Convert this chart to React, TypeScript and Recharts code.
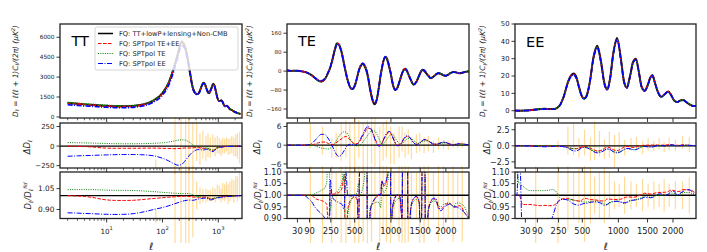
import React from 'react';
import { ComposedChart, Line, Scatter, ErrorBar, XAxis, YAxis } from 'recharts';

const FONT = "'DejaVu Sans', sans-serif";
const C_FID = '#000000';
const C_TEEE = '#ff0000';
const C_TE = '#008000';
const C_EE = '#0000ff';
const C_BAR = '#ffa500';

// ---------------- TT ----------------
const ttEll = [2, 3, 4, 6, 8, 10, 14, 20, 30, 40, 50, 70, 100, 130, 160, 190, 220, 250, 280, 310, 350, 400, 420, 460, 500, 540, 580, 620, 680, 740, 810, 860, 920, 980, 1040, 1100, 1150, 1200, 1260, 1320, 1420, 1500, 1600, 1750, 1900, 2100, 2300, 2500];
const ttFid = [1050, 990, 950, 900, 860, 840, 810, 800, 830, 900, 990, 1250, 1800, 2600, 3700, 4800, 5650, 5350, 4500, 3400, 2200, 1750, 1720, 1900, 2300, 2580, 2450, 2100, 1800, 2100, 2500, 2350, 1800, 1350, 1200, 1230, 1250, 1120, 900, 800, 850, 760, 600, 520, 420, 330, 270, 230];
const ttDeltaTEEE = [0, -3, -6, -14, -22, -26, -28, -28, -28, -27, -26, -26, -28, -30, -33, -32, -28, -25, -25, -25, -22, -20, -20, -22, -28, -30, -28, -25, -35, -48, -55, -45, -30, -18, -12, -10, -10, -9, -7, -6, -5, -4, -3, -2, -1, 0, 0, 0];
const ttDeltaTE = [45, 43, 41, 38, 35, 33, 31, 30, 30, 31, 32, 36, 42, 52, 65, 75, 80, 78, 65, 45, 15, -5, -10, -15, -20, -25, -25, -25, -35, -45, -50, -40, -25, -15, -12, -10, -10, -8, -5, -5, -5, -4, -3, -2, -1, 0, 0, 0];
const ttDeltaEE = [-130, -125, -122, -118, -115, -113, -110, -108, -108, -110, -113, -125, -155, -190, -225, -245, -235, -195, -150, -110, -75, -50, -45, -45, -48, -50, -45, -40, -50, -65, -70, -55, -35, -22, -18, -16, -15, -12, -9, -7, -6, -5, -4, -3, -2, -1, 0, 0];
const ttBarEll = [76, 168, 215, 260, 298, 350, 410, 470, 530, 600, 654, 720, 800, 880, 960, 1040, 1120, 1200, 1300, 1400, 1500, 1620, 1750, 1900, 2050, 2200, 2400];
const ttBarDelta = [-230, 0, 50, -20, 30, 0, 60, -40, 20, -30, 10, -20, 30, -10, 20, 0, -30, 10, 0, 20, -10, 0, 20, -10, 10, 0, -20];
const ttBarDeltaErr = [60, 400, 400, 400, 400, 300, 250, 200, 180, 160, 150, 130, 120, 120, 110, 100, 100, 100, 90, 90, 100, 100, 110, 120, 140, 160, 200];
const ttBarRatio = [0.85, 1.0, 1.0, 1.0, 1.0, 1.0, 1.0, 1.0, 1.0, 1.0, 1.0, 1.0, 1.02, 1.0, 1.03, 1.02, 1.0, 1.03, 1.02, 1.04, 1.01, 1.03, 1.05, 1.03, 1.06, 1.05, 1.08];
const ttBarRatioErr = [0.05, 0.5, 0.5, 0.5, 0.5, 0.3, 0.1, 0.06, 0.05, 0.05, 0.04, 0.04, 0.04, 0.05, 0.05, 0.05, 0.05, 0.06, 0.06, 0.06, 0.07, 0.07, 0.07, 0.08, 0.08, 0.09, 0.1];

// ---------------- TE ----------------
const teEll = [2, 5, 10, 20, 30, 40, 50, 60, 80, 100, 130, 150, 170, 200, 215, 230, 245, 260, 290, 308, 330, 360, 380, 400, 420, 450, 470, 500, 530, 545, 560, 600, 630, 645, 660, 700, 730, 760, 790, 820, 845, 860, 890, 915, 940, 970, 985, 1000, 1020, 1050, 1070, 1100, 1140, 1180, 1200, 1230, 1260, 1280, 1330, 1380, 1430, 1480, 1510, 1540, 1570, 1600, 1650, 1700, 1750, 1800, 1850, 1900, 1950, 2000, 2050, 2100, 2160, 2220, 2280, 2330, 2400, 2500];
const teFid = [2.5, 2, 1.2, 1.5, 1.5, 0.6, -1, -3, -8, -16, -32, -41, -44, -33, -20, -3, 15, 40, 95, 117, 110, 70, 30, -8, -40, -70, -76, -62, -25, -4, 12, 30, 16, 3, -15, -85, -125, -140, -118, -65, -15, 8, 47, 58, 50, 20, 3, -15, -45, -74, -80, -72, -42, -10, 2, 8, 1, -10, -38, -57, -45, -18, -3, 5, 2, -6, -20, -30, -24, -14, -9, -12, -18, -20, -15, -8, -4, -6, -9, -8, -4, -1];
const teDeltaTEEE = [0, 0, 0, 0, 0, 0, 0, 0, 0, 0, 0.5, 0.8, 1.0, 1.0, 0.8, 0.5, 0.3, 0.2, 0.5, 1, 1.5, 2.2, 2.6, 2.8, 2.5, 1.5, 1.0, 0.5, 0.5, 0.8, 1.2, 3, 4.3, 5, 5.5, 5.2, 4, 2.3, 0.8, 0, 0, 0.5, 1.8, 2.8, 3.6, 4, 4, 3.7, 2.8, 1.5, 0.6, 0, 0.2, 1, 1.7, 2.4, 2.8, 2.8, 2, 0.8, 0.3, 0.6, 1.1, 1.5, 1.7, 1.7, 1.3, 0.8, 0.4, 0.3, 0.5, 0.7, 0.9, 0.8, 0.5, 0.3, 0.2, 0.3, 0.4, 0.4, 0.3, 0.1];
const teDeltaTE = [0, 0, 0, 0, 0, 0, 0, 0, 0, 0, -0.3, -0.6, -0.9, -1.1, -1.2, -1.2, -1.0, -0.5, 0.8, 1.8, 3, 4.0, 4.3, 4.2, 3.5, 2, 1.0, 0, -0.3, -0.2, 0, 1.0, 2.0, 2.5, 3.0, 4.3, 4.8, 4.5, 3.5, 2, 0.8, 0.3, 0.5, 1.2, 2, 2.8, 3.2, 3.4, 3.4, 2.8, 2.2, 1.3, 0.5, 0.5, 0.9, 1.5, 2.0, 2.2, 2.2, 1.5, 0.8, 0.6, 0.8, 1.1, 1.3, 1.4, 1.3, 1.0, 0.6, 0.4, 0.4, 0.6, 0.7, 0.7, 0.5, 0.3, 0.2, 0.2, 0.3, 0.3, 0.2, 0.1];
const teDeltaEE = [0, 0, 0, 0, 0, 0, 0, 0, 0.1, 0.4, 1.8, 2.8, 3.5, 3.4, 2.8, 2.0, 1.0, 0, -2.2, -3.2, -3.6, -2.8, -1.8, -0.8, 0, 0.3, 0.2, 0, 0.3, 0.8, 1.5, 3.5, 5, 5.6, 6, 5.5, 4, 2, 0.3, -0.3, 0, 0.5, 2, 3.2, 4, 4.4, 4.3, 4, 3, 1.5, 0.6, -0.2, 0, 1, 1.8, 2.6, 3, 3, 2, 0.8, 0.2, 0.5, 1, 1.5, 1.8, 1.8, 1.4, 0.8, 0.3, 0.2, 0.5, 0.8, 1.0, 0.9, 0.6, 0.3, 0.2, 0.3, 0.5, 0.5, 0.3, 0.1];
const teBarEll = [95, 180, 258, 300, 350, 400, 444, 500, 550, 605, 660, 715, 762, 831, 880, 930, 995, 1050, 1130, 1180, 1230, 1285, 1340, 1430, 1490, 1570, 1650, 1750, 1850, 1950, 2050, 2150, 2250, 2350];
const teBarDelta = [3, 1.5, -1, 0, 1, 2, -1, 1, 2, -1, 0, 2, 1, -1, 1, 2, 0, -1, 1, 2, 0, 1, -1, 0.5, 1, 0, 0.5, -0.5, 0.5, 0.3, 0, 0.5, 0, 0.3];
const teBarDeltaErr = [4, 4.5, 3, 4, 6, 6, 8, 8, 6, 8, 8, 8, 8, 7, 6, 6, 6, 5, 5, 4, 4, 4, 3.5, 3, 3, 2.5, 2.5, 2, 2, 1.5, 1.5, 1.2, 1, 1];
const teBarRatio = [1.0, 1.0, 1.0, 1.0, 1.0, 1.0, 1.0, 1.0, 1.0, 1.0, 1.0, 1.0, 1.0, 1.0, 1.0, 1.0, 1.0, 1.0, 1.0, 1.0, 1.0, 1.0, 1.0, 1.0, 1.0, 1.0, 1.0, 1.0, 1.0, 1.0, 1.0, 1.0, 1.0, 1.0];
const teBarRatioErr = [0.3, 0.3, 0.3, 0.1, 0.3, 0.3, 0.15, 0.3, 0.3, 0.2, 0.3, 0.2, 0.1, 0.2, 0.15, 0.2, 0.3, 0.1, 0.2, 0.3, 0.3, 0.2, 0.1, 0.1, 0.3, 0.3, 0.15, 0.1, 0.2, 0.15, 0.1, 0.2, 0.1, 0.2];

// ---------------- EE ----------------
const eeEll = [2, 5, 10, 20, 30, 50, 80, 110, 140, 170, 200, 230, 260, 300, 340, 370, 400, 430, 460, 490, 520, 550, 590, 640, 690, 740, 790, 830, 870, 920, 980, 1040, 1090, 1136, 1190, 1240, 1290, 1340, 1390, 1447, 1500, 1550, 1590, 1640, 1700, 1762, 1830, 1903, 1960, 2020, 2090, 2150, 2212, 2280, 2360, 2452, 2500];
const eeFid = [0.05, 0.03, 0.02, 0.05, 0.1, 0.3, 0.7, 1.0, 1.15, 1.0, 0.9, 1.4, 3, 8.5, 16.5, 20.2, 21.5, 19.5, 14, 9, 7, 8.5, 16, 31, 37.5, 29, 16, 12.5, 18, 33, 42, 30, 17, 13.5, 20, 28, 30, 23, 14, 11.5, 14.5, 19, 20.5, 16, 10.5, 8, 9.5, 11, 9, 6, 5, 5.8, 6.2, 5, 3.5, 2.7, 2.8];
const eeDeltaTEEE = [0, 0, 0, -0.002, -0.004, -0.012, -0.03, -0.045, -0.05, -0.045, -0.04, -0.05, -0.07, -0.12, -0.22, -0.35, -0.45, -0.45, -0.35, -0.2, -0.1, -0.12, -0.3, -0.6, -0.8, -0.7, -0.4, -0.2, -0.3, -0.6, -0.75, -0.5, -0.2, -0.1, -0.15, -0.25, -0.2, -0.05, 0.05, 0.1, 0.1, 0.1, 0.12, 0.15, 0.12, 0.1, 0.12, 0.18, 0.2, 0.12, 0.08, 0.1, 0.15, 0.12, 0.08, 0.04, 0.02];
const eeDeltaTE = [0.005, 0.003, 0.001, 0.002, 0.003, 0.006, 0.014, 0.02, 0.023, 0.022, 0.022, 0.02, -0.03, -0.15, -0.3, -0.4, -0.45, -0.45, -0.35, -0.25, -0.2, -0.25, -0.45, -0.8, -0.95, -0.85, -0.6, -0.5, -0.6, -0.9, -1.0, -0.85, -0.6, -0.45, -0.5, -0.6, -0.55, -0.35, -0.15, -0.05, -0.1, -0.15, -0.15, -0.05, 0, 0, 0, 0.05, 0.08, 0.05, 0, 0.03, 0.07, 0.06, 0.04, 0.01, 0];
const eeDeltaEE = [0, 0, 0.005, -0.01, -0.015, -0.04, -0.09, -0.13, -0.15, -0.13, -0.08, -0.06, -0.06, -0.15, -0.35, -0.6, -0.8, -0.8, -0.6, -0.35, -0.25, -0.3, -0.5, -0.9, -1.1, -1.0, -0.7, -0.5, -0.55, -0.9, -1.1, -0.9, -0.55, -0.4, -0.45, -0.6, -0.6, -0.4, -0.2, -0.1, -0.15, -0.2, -0.2, -0.05, 0.05, 0.05, 0, 0.05, 0.15, 0.1, 0, 0.05, 0.1, 0.12, 0.08, 0.02, 0];
const eeBarEll = [80, 245, 340, 400, 460, 527, 600, 655, 720, 790, 862, 940, 1012, 1100, 1206, 1300, 1409, 1510, 1620, 1720, 1820, 1922, 2050, 2201, 2350];
const eeBarDelta = [0, 0.2, 0.8, 1.0, -0.3, 0.5, -0.5, 0.8, 0.3, -0.5, 0.2, -0.8, 0.5, -0.3, 0.2, 0.5, -0.3, 0.2, 0, 0.3, -0.2, 0.3, 0.1, 0.5, 0.2];
const eeBarDeltaErr = [0.2, 0.6, 2.2, 2.5, 1.5, 2.0, 1.8, 3.0, 2.0, 1.5, 2.0, 2.5, 1.6, 1.2, 1.0, 0.9, 1.0, 1.0, 0.8, 0.9, 0.8, 1.0, 0.9, 1.0, 1.2];
const eeBarRatio = [1.0, 1.0, 1.0, 1.0, 1.0, 1.0, 1.0, 1.0, 1.0, 1.0, 1.0, 1.0, 1.0, 1.0, 1.0, 1.0, 1.0, 1.0, 1.0, 1.0, 1.0, 1.0, 1.0, 1.0, 1.0];
const eeBarRatioErr = [0.5, 0.3, 0.15, 0.1, 0.12, 0.2, 0.12, 0.08, 0.1, 0.12, 0.1, 0.06, 0.05, 0.08, 0.06, 0.05, 0.07, 0.05, 0.06, 0.05, 0.07, 0.05, 0.06, 0.06, 0.08];

// ---------------- axes ----------------
const ttXMajor = [10, 100, 1000];
const ttXMinor = [2, 3, 4, 5, 6, 7, 8, 9, 20, 30, 40, 50, 60, 70, 80, 90, 200, 300, 400, 500, 600, 700, 800, 900, 2000];
const pXTicks = [30, 90, 250, 500, 1000, 1500, 2000];
const ttTopTicks = [0, 1500, 3000, 4500, 6000];
const ttMidTicks = [-250, 0, 250];
const ttBotTicks = [0.9, 1.05];
const teTopTicks = [-160, -80, 0, 80, 160];
const teMidTicks = [-6, 0, 6];
const ratioTicks = [0.9, 0.95, 1.0, 1.05, 1.1];
const eeTopTicks = [0, 10, 20, 30, 40, 50];
const eeMidTicks = [-2.5, 0, 2.5];

const POW = 0.6;
const px = (l: number) => Math.pow(l, POW);
const lx = (l: number) => l;

type Pt = { x: number; y: number; err?: number };
const series = (ells: number[], vals: number[], f: (l: number) => number): Pt[] => ells.map((l, i) => ({ x: f(l), y: vals[i] }));
const model = (ells: number[], fid: number[], d: number[], f: (l: number) => number): Pt[] => ells.map((l, i) => ({ x: f(l), y: fid[i] + d[i] }));
const ratio = (ells: number[], fid: number[], d: number[], f: (l: number) => number): Pt[] => ells.map((l, i) => ({ x: f(l), y: (fid[i] + d[i]) / fid[i] }));
const bars = (ells: number[], c: number[], e: number[], f: (l: number) => number): Pt[] => ells.map((l, i) => ({ x: f(l), y: c[i], err: e[i] }));

const minus = (s: string) => s.replace('-', '\u2212');

type LineSpec = { data: Pt[]; color: string; dash?: string; width: number };

const STYLE = {
  fid: { color: C_FID, dash: undefined },
  teee: { color: C_TEEE, dash: '3.5 1.5' },
  te: { color: C_TE, dash: '1 1.3' },
  ee: { color: C_EE, dash: '5 1.5 1 1.5' },
};

type PanelProps = {
  left: number; top: number; w: number; h: number;
  kind: 'log' | 'pow';
  showXLabels: boolean;
  yDomain: [number, number];
  yTicks: number[];
  yFmt: (v: number) => string;
  yFont: number;
  lines: LineSpec[];
  bar?: Pt[];
  refY?: number;
};

function Panel(p: PanelProps) {
  const yw = 44;
  const mt = 6;
  const mr = 2;
  const xh = p.showXLabels ? 24 : 6;
  const W = yw + p.w + mr;
  const H = mt + p.h + xh;
  const bottom = mt + p.h;
  const isLog = p.kind === 'log';
  const f = isLog ? lx : px;
  const xDomain: [number, number] = isLog ? [1.46, 2660] : [px(2), px(2500)];
  const ticks = isLog ? [...ttXMajor, ...ttXMinor] : pXTicks.map(px);
  const tickRender = (tp: any) => {
    const x = tp.x;
    const v = tp.payload.value;
    let major = true;
    let label: React.ReactNode = null;
    if (isLog) {
      major = ttXMajor.indexOf(v) >= 0;
      if (major) {
        const e = Math.round(Math.log10(v));
        label = (
          <text x={x} y={bottom + 15} textAnchor="middle" fontSize={7.2} fontFamily={FONT} fill="#222">
            <tspan>10</tspan>
            <tspan dy={-3.5} fontSize={5.2}>{e}</tspan>
          </text>
        );
      }
    } else {
      const idx = pXTicks.map(px).findIndex((t) => Math.abs(t - v) < 1e-6);
      label = (
        <text x={x} y={bottom + 15} textAnchor="middle" fontSize={8.4} fontFamily={FONT} fill="#222">
          {pXTicks[idx]}
        </text>
      );
    }
    return (
      <g>
        <line x1={x} x2={x} y1={bottom} y2={bottom + (major ? 4 : 2.3)} stroke="#222" strokeWidth={major ? 0.9 : 0.7} />
        {p.showXLabels && major ? label : null}
      </g>
    );
  };
  const refData: Pt[] | null = p.refY === undefined ? null : [
    { x: isLog ? 1 : 0, y: p.refY },
    { x: isLog ? 5000 : 200, y: p.refY },
  ];
  return (
    <div style={{ position: 'absolute', left: p.left - yw, top: p.top - mt }}>
      <ComposedChart width={W} height={H} margin={{ top: mt, right: mr, bottom: 0, left: 0 }}>
        <XAxis
          type="number"
          dataKey="x"
          scale={isLog ? 'log' : 'linear'}
          domain={xDomain}
          allowDataOverflow
          ticks={ticks}
          interval={0}
          height={xh}
          axisLine={false}
          tickLine={false}
          tick={tickRender}
        />
        <YAxis
          type="number"
          domain={p.yDomain}
          allowDataOverflow
          ticks={p.yTicks}
          interval={0}
          width={yw}
          axisLine={false}
          tickSize={3.5}
          tickMargin={2}
          tickLine={{ stroke: '#222', strokeWidth: 0.9 }}
          tick={{ fontSize: p.yFont, fill: '#222', fontFamily: FONT }}
          tickFormatter={p.yFmt}
        />
        {p.bar ? (
          <Scatter data={p.bar} dataKey="y" isAnimationActive={false} shape={() => <g />}>
            <ErrorBar dataKey="err" direction="y" width={0} stroke={C_BAR} strokeOpacity={0.4} strokeWidth={1.2} />
          </Scatter>
        ) : null}
        {refData ? (
          <Line data={refData} dataKey="y" type="linear" stroke="#000" strokeWidth={1.3} dot={false} isAnimationActive={false} />
        ) : null}
        {p.lines.map((s, i) => (
          <Line
            key={i}
            data={s.data}
            dataKey="y"
            type="monotone"
            stroke={s.color}
            strokeWidth={s.width}
            strokeDasharray={s.dash}
            dot={false}
            isAnimationActive={false}
          />
        ))}
      </ComposedChart>
    </div>
  );
}

const cols = [
  { x: 60, w: 182 },
  { x: 287, w: 182 },
  { x: 515, w: 181 },
];
const rows = [
  { y: 24, h: 94 },
  { y: 123, h: 45 },
  { y: 172, h: 46.5 },
];

const fmtInt = (v: number) => minus(String(v));
const fmt1 = (v: number) => minus(v.toFixed(1));
const fmt2 = (v: number) => minus(v.toFixed(2));

function threeLines(ells: number[], fid: number[], d: [number[], number[], number[]], f: (l: number) => number, kind: 'model' | 'delta' | 'ratio', width: number): LineSpec[] {
  const keys: ('teee' | 'te' | 'ee')[] = ['teee', 'te', 'ee'];
  return keys.map((k, i) => {
    const data = kind === 'model' ? model(ells, fid, d[i], f) : kind === 'delta' ? series(ells, d[i], f) : ratio(ells, fid, d[i], f);
    return { data, color: STYLE[k].color, dash: STYLE[k].dash, width };
  });
}

function YLabelTop({ x, y }: { x: number; y: number }) {
  return (
    <text transform={`translate(${x},${y}) rotate(-90)`} textAnchor="middle" fontSize={7.4} fontFamily={FONT} fill="#222" fontStyle="italic">
      <tspan>D</tspan>
      <tspan fontSize={5.2} dy={1.8}>ℓ</tspan>
      <tspan dy={-1.8}> = ℓ(ℓ + 1)C</tspan>
      <tspan fontSize={5.2} dy={1.8}>ℓ</tspan>
      <tspan dy={-1.8}>/(2π) (μK</tspan>
      <tspan fontSize={5.2} dy={-3}>2</tspan>
      <tspan dy={3}>)</tspan>
    </text>
  );
}
function YLabelMid({ x, y }: { x: number; y: number }) {
  return (
    <text transform={`translate(${x},${y}) rotate(-90)`} textAnchor="middle" fontSize={8.4} fontFamily={FONT} fill="#222" fontStyle="italic">
      <tspan>ΔD</tspan>
      <tspan fontSize={6} dy={2}>ℓ</tspan>
    </text>
  );
}
function YLabelBot({ x, y }: { x: number; y: number }) {
  return (
    <text transform={`translate(${x},${y}) rotate(-90)`} textAnchor="middle" fontSize={8.4} fontFamily={FONT} fill="#222" fontStyle="italic">
      <tspan>D</tspan>
      <tspan fontSize={6} dy={2}>ℓ</tspan>
      <tspan dy={-2}>/D</tspan>
      <tspan fontSize={6} dy={2}>ℓ</tspan>
      <tspan fontSize={5} dy={-6}>fid</tspan>
    </text>
  );
}

const legendItems = [
  { label: 'FQ: TT+lowP+lensing+Non-CMB', k: 'fid' as const },
  { label: 'FQ: SPTpol TE+EE', k: 'teee' as const },
  { label: 'FQ: SPTpol TE', k: 'te' as const },
  { label: 'FQ: SPTpol EE', k: 'ee' as const },
];

export default function App() {
  const ttD: [number[], number[], number[]] = [ttDeltaTEEE, ttDeltaTE, ttDeltaEE];
  const teD: [number[], number[], number[]] = [teDeltaTEEE, teDeltaTE, teDeltaEE];
  const eeD: [number[], number[], number[]] = [eeDeltaTEEE, eeDeltaTE, eeDeltaEE];
  const fidLine = (ells: number[], fid: number[], f: (l: number) => number): LineSpec => ({ data: series(ells, fid, f), color: C_FID, width: 1.9 });

  const specs = [
    { ells: ttEll, fid: ttFid, d: ttD, f: lx, kind: 'log' as const, col: 0,
      top: { dom: [-80, 7000] as [number, number], ticks: ttTopTicks, fmt: fmtInt, font: 5.8 },
      mid: { dom: [-280, 295] as [number, number], ticks: ttMidTicks, fmt: fmtInt, font: 7 },
      bot: { dom: [0.835, 1.17] as [number, number], ticks: ttBotTicks, fmt: fmt2, font: 7.4 },
      barMid: bars(ttBarEll, ttBarDelta, ttBarDeltaErr, lx), barBot: bars(ttBarEll, ttBarRatio, ttBarRatioErr, lx) },
    { ells: teEll, fid: teFid, d: teD, f: px, kind: 'pow' as const, col: 1,
      top: { dom: [-198, 199] as [number, number], ticks: teTopTicks, fmt: fmtInt, font: 5.5 },
      mid: { dom: [-7.3, 7.1] as [number, number], ticks: teMidTicks, fmt: fmtInt, font: 7.4 },
      bot: { dom: [0.9, 1.1] as [number, number], ticks: ratioTicks, fmt: fmt2, font: 8 },
      barMid: bars(teBarEll, teBarDelta, teBarDeltaErr, px), barBot: bars(teBarEll, teBarRatio, teBarRatioErr, px) },
    { ells: eeEll, fid: eeFid, d: eeD, f: px, kind: 'pow' as const, col: 2,
      top: { dom: [-4.2, 50] as [number, number], ticks: eeTopTicks, fmt: fmtInt, font: 6.8 },
      mid: { dom: [-3.45, 3.55] as [number, number], ticks: eeMidTicks, fmt: fmt1, font: 8 },
      bot: { dom: [0.9, 1.1] as [number, number], ticks: ratioTicks, fmt: fmt2, font: 8 },
      barMid: bars(eeBarEll, eeBarDelta, eeBarDeltaErr, px), barBot: bars(eeBarEll, eeBarRatio, eeBarRatioErr, px) },
  ];

  const titles = [
    { t: 'TT', x: 71.5, y: 45.7 },
    { t: 'TE', x: 298, y: 45.7 },
    { t: 'EE', x: 526, y: 46.8 },
  ];
  const yLab = [
    { top: 17.5, mid: 29.5, bot: 30.5 },
    { top: 251.5, mid: 259.5, bot: 260.5 },
    { top: 485, mid: 490, bot: 490.5 },
  ];

  return (
    <div style={{ position: 'absolute', left: 0, top: 0, width: 707, height: 252, background: '#fff', fontFamily: FONT }}>
      {specs.map((s) => {
        const c = cols[s.col];
        return (
          <React.Fragment key={s.col}>
            <Panel left={c.x} top={rows[0].y} w={c.w} h={rows[0].h} kind={s.kind} showXLabels={false}
              yDomain={s.top.dom} yTicks={s.top.ticks} yFmt={s.top.fmt} yFont={s.top.font}
              lines={[fidLine(s.ells, s.fid, s.f), ...threeLines(s.ells, s.fid, s.d, s.f, 'model', 1.6)]} />
            <Panel left={c.x} top={rows[1].y} w={c.w} h={rows[1].h} kind={s.kind} showXLabels={false}
              yDomain={s.mid.dom} yTicks={s.mid.ticks} yFmt={s.mid.fmt} yFont={s.mid.font}
              bar={s.barMid} refY={0}
              lines={threeLines(s.ells, s.fid, s.d, s.f, 'delta', 1.0)} />
            <Panel left={c.x} top={rows[2].y} w={c.w} h={rows[2].h} kind={s.kind} showXLabels={true}
              yDomain={s.bot.dom} yTicks={s.bot.ticks} yFmt={s.bot.fmt} yFont={s.bot.font}
              bar={s.barBot} refY={1}
              lines={threeLines(s.ells, s.fid, s.d, s.f, 'ratio', 1.0)} />
          </React.Fragment>
        );
      })}
      <svg width={707} height={252} style={{ position: 'absolute', left: 0, top: 0, pointerEvents: 'none' }}>
        {cols.map((c, i) =>
          rows.map((r, j) => (
            <rect key={`${i}-${j}`} x={c.x} y={r.y} width={c.w} height={r.h} fill="none" stroke="#222" strokeWidth={1.3} />
          ))
        )}
        {titles.map((t) => (
          <text key={t.t} x={t.x} y={t.y} fontSize={14.5} fontFamily={FONT} fill="#000">{t.t}</text>
        ))}
        {yLab.map((l, i) => (
          <React.Fragment key={i}>
            <YLabelTop x={l.top} y={71} />
            <YLabelMid x={l.mid} y={147} />
            <YLabelBot x={l.bot} y={196} />
          </React.Fragment>
        ))}
        {cols.map((c, i) => (
          <text key={`xl${i}`} x={c.x + c.w / 2} y={250} textAnchor="middle" fontSize={10} fontStyle="italic" fontFamily={FONT} fill="#222">ℓ</text>
        ))}
        <g>
          <rect x={95} y={27} width={143} height={43} rx={2} fill="#fff" fillOpacity={0.8} stroke="#ccc" strokeWidth={0.8} />
          {legendItems.map((it, i) => {
            const y = 33.5 + i * 10;
            const st = STYLE[it.k];
            return (
              <g key={it.label}>
                <line x1={98} x2={113} y1={y} y2={y} stroke={st.color} strokeWidth={it.k === 'fid' ? 1.5 : 1.1} strokeDasharray={st.dash} />
                <text x={119} y={y + 2.4} fontSize={6.7} fontFamily={FONT} fill="#222">{it.label}</text>
              </g>
            );
          })}
        </g>
      </svg>
    </div>
  );
}
